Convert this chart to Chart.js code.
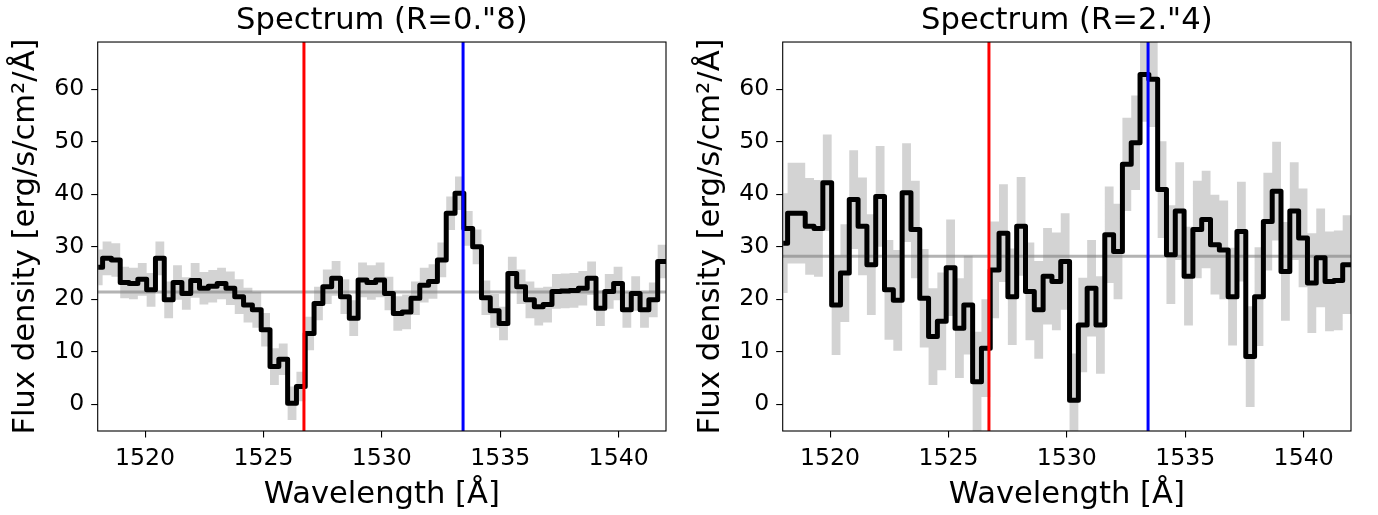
<!DOCTYPE html>
<html><head><meta charset="utf-8">
<script src="https://cdn.jsdelivr.net/npm/chart.js@4.4.1/dist/chart.umd.min.js"></script>
<style>
html,body{margin:0;padding:0;background:#fff;width:1378px;height:515px;overflow:hidden;}
canvas{position:absolute;top:0;}
#c1{left:0px}
#c2{left:685px}
</style></head><body>
<canvas id="c1" width="689" height="515"></canvas>
<canvas id="c2" width="689" height="515"></canvas>
<script>
// ---- data ----
const wavelength = [
 1518.021,1518.393,1518.765,1519.137,1519.509,1519.881,1520.253,1520.625,1520.997,1521.370,
 1521.742,1522.114,1522.486,1522.858,1523.230,1523.602,1523.974,1524.346,1524.718,1525.091,
 1525.463,1525.835,1526.207,1526.579,1526.951,1527.323,1527.695,1528.067,1528.439,1528.812,
 1529.184,1529.556,1529.928,1530.300,1530.672,1531.044,1531.416,1531.788,1532.160,1532.533,
 1532.905,1533.277,1533.649,1534.021,1534.393,1534.765,1535.137,1535.509,1535.881,1536.254,
 1536.626,1536.998,1537.370,1537.742,1538.114,1538.486,1538.858,1539.230,1539.602,1539.975,
 1540.347,1540.719,1541.091,1541.463,1541.835,1542.207];
const fluxInner = [
 26.1,27.8,27.5,23.2,23.0,23.8,21.8,27.8,19.9,23.2,
 21.1,23.6,22.1,22.5,23.0,22.1,20.5,18.9,18.0,14.2,
 7.2,8.6,0.2,3.4,13.5,19.2,22.4,24.0,20.5,16.4,
 23.7,23.2,23.7,21.1,17.3,17.6,20.2,22.7,23.4,27.5,
 36.4,40.2,33.5,30.0,20.3,17.8,15.4,24.9,22.4,19.9,
 18.6,19.0,21.5,21.6,21.7,22.1,24.0,18.3,21.5,23.0,
 18.0,21.1,18.0,19.9,27.2,27.2];
const errInner = [
 3.4,3.2,3.2,3.0,3.0,3.1,3.2,3.2,3.5,3.3,
 3.1,3.3,3.1,3.1,3.0,3.2,3.3,3.3,3.4,3.2,
 3.5,3.0,3.2,2.8,3.2,3.2,3.3,3.3,3.3,3.4,
 3.3,3.3,3.3,3.2,3.3,3.3,3.2,3.3,3.3,3.3,
 3.2,3.2,3.3,3.3,3.3,3.2,3.2,3.2,3.3,3.5,
 3.6,3.4,3.3,3.3,3.3,3.3,3.2,3.4,3.3,3.2,
 3.4,3.3,3.4,3.3,3.2,3.2];
const fluxOuter = [
 30.7,36.4,36.4,33.9,33.5,42.2,18.9,25.0,39.0,33.9,
 26.6,39.6,21.8,19.8,40.3,33.3,20.2,12.9,15.8,26.0,
 14.5,18.9,4.3,10.7,25.6,32.6,20.5,33.9,21.5,18.0,
 24.4,23.4,27.2,0.8,15.1,22.1,15.1,32.3,29.1,45.7,
 49.8,62.8,61.9,40.9,28.5,36.8,24.4,33.3,35.2,30.4,
 29.4,20.5,32.9,9.1,20.5,34.8,40.6,25.3,36.8,31.7,
 23.1,27.9,23.4,23.6,26.6,26.6];
const errOuter = [
 9.5,9.6,9.6,9.2,9.2,9.2,9.5,9.3,9.4,9.3,
 9.6,9.6,9.5,9.6,9.4,9.3,9.4,9.2,9.3,9.2,
 9.5,9.4,9.5,9.3,9.2,9.3,9.2,9.4,9.3,9.3,
 9.2,9.3,9.2,8.9,9.0,9.2,9.3,9.2,9.1,8.9,
 9.0,9.0,9.1,9.2,9.4,9.3,9.4,9.3,9.3,9.5,
 9.4,9.3,9.5,9.6,9.4,9.3,9.4,9.4,9.3,9.4,
 9.5,9.4,9.5,9.5,9.4,9.4];
const continuumInner = 21.4;
const continuumOuter = 28.2;
const lineSiII = 1526.71;
const lineSiIIstar = 1533.43;
const xTicks = [1520, 1525, 1530, 1535, 1540];
const yTicks = [0, 10, 20, 30, 40, 50, 60];
const xRange = [1518, 1542];
const yRange = [-5.08, 69.0];
const titles = ['Spectrum (R=0."8)', 'Spectrum (R=2."4)'];
const xLabel = 'Wavelength [Å]';
const yLabel = 'Flux density [erg/s/cm²/Å]';

// ---- drawing ----
const FONT = "'DejaVu Sans', 'Noto Sans', sans-serif";
Chart.defaults.font.family = FONT;
Chart.defaults.color = '#000';

const boxPlugin = {
  id: 'box',
  afterDatasetsDraw(chart) {
    const a = chart.chartArea, ctx = chart.ctx;
    ctx.save();
    ctx.strokeStyle = '#000';
    ctx.lineWidth = 1.1;
    ctx.strokeRect(a.left, a.top, a.right - a.left, a.bottom - a.top);
    ctx.restore();
  }
};

function pts(ys) { return wavelength.map((x, i) => ({x: x, y: ys[i]})); }

function makeChart(id, title, flux, err, cont) {
  const upper = flux.map((v, i) => v + err[i]);
  const lower = flux.map((v, i) => v - err[i]);
  return new Chart(document.getElementById(id), {
    type: 'line',
    data: {
      datasets: [
        {data: [{x: lineSiII, y: yRange[0]}, {x: lineSiII, y: yRange[1]}],
         borderColor: '#ff0000', borderWidth: 3, pointRadius: 0, order: 0, clip: 0},
        {data: [{x: lineSiIIstar, y: yRange[0]}, {x: lineSiIIstar, y: yRange[1]}],
         borderColor: '#0000ff', borderWidth: 3, pointRadius: 0, order: 0, clip: 0},
        {data: pts(flux), stepped: 'middle', borderColor: '#000', borderWidth: 5,
         borderJoinStyle: 'round', pointRadius: 0, order: 1, clip: 0},
        {data: [{x: xRange[0], y: cont}, {x: xRange[1], y: cont}],
         borderColor: 'rgba(128,128,128,0.6)', borderWidth: 3, pointRadius: 0, order: 2, clip: 0},
        {data: pts(upper), stepped: 'middle', borderColor: 'rgba(0,0,0,0)', borderWidth: 0,
         backgroundColor: '#d3d3d3', fill: '+1', pointRadius: 0, order: 3, clip: 0},
        {data: pts(lower), stepped: 'middle', borderColor: 'rgba(0,0,0,0)', borderWidth: 0,
         pointRadius: 0, order: 4, clip: 0, fill: false}
      ]
    },
    options: {
      responsive: false, animation: false, devicePixelRatio: 1, events: [],
      layout: {padding: {left: 0, right: 23, top: 0, bottom: 0}},
      plugins: {
        legend: {display: false}, tooltip: {enabled: false},
        title: {display: true, text: title, fullSize: false, color: '#000',
                font: {family: FONT, size: 30.6, weight: 'normal', lineHeight: 1.2},
                padding: {top: 2.6, bottom: 2.7}}
      },
      scales: {
        x: {
          type: 'linear', min: xRange[0], max: xRange[1],
          afterBuildTicks: s => { s.ticks = xTicks.map(v => ({value: v})); },
          afterFit: s => { s.height = 84; },
          ticks: {autoSkip: false, maxRotation: 0, padding: 7, color: '#000',
                  font: {size: 23.6, lineHeight: 1.2}, callback: v => String(v)},
          grid: {drawOnChartArea: false, drawTicks: true, tickLength: 6.5, color: '#000', lineWidth: 1.1},
          border: {display: false},
          title: {display: true, text: xLabel, color: '#000',
                  font: {size: 30.6, weight: 'normal', lineHeight: 1.2}, padding: {top: 0, bottom: 1.7}}
        },
        y: {
          type: 'linear', min: yRange[0], max: yRange[1],
          afterBuildTicks: s => { s.ticks = yTicks.map(v => ({value: v})); },
          afterFit: s => { s.width = 97.7; },
          ticks: {autoSkip: false, padding: 7, color: '#000',
                  font: {size: 23.6, lineHeight: 1.2}, callback: v => String(v)},
          grid: {drawOnChartArea: false, drawTicks: true, tickLength: 6.5, color: '#000', lineWidth: 1.1},
          border: {display: false},
          title: {display: true, text: yLabel, color: '#000',
                  font: {size: 30.6, weight: 'normal', lineHeight: 1.2}, padding: {top: 8.1, bottom: 0}}
        }
      }
    },
    plugins: [boxPlugin]
  });
}

makeChart('c1', titles[0], fluxInner, errInner, continuumInner);
makeChart('c2', titles[1], fluxOuter, errOuter, continuumOuter);
</script>
</body></html>
